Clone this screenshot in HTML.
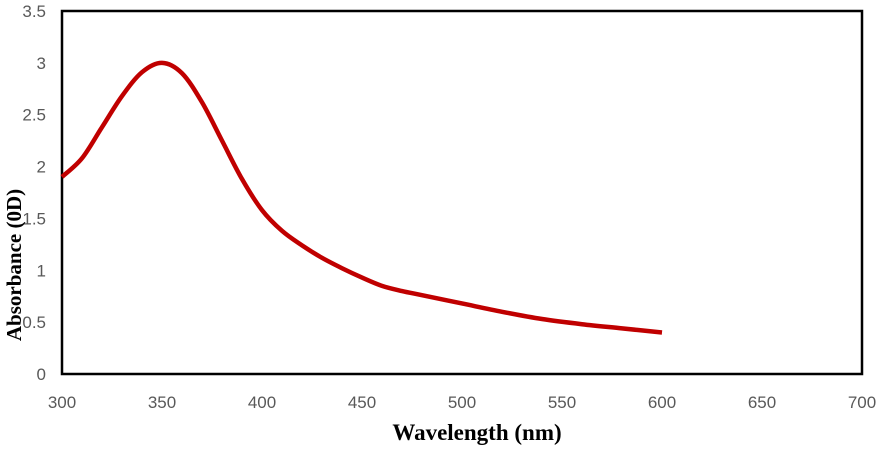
<!DOCTYPE html>
<html><head><meta charset="utf-8"><style>
html,body{margin:0;padding:0;background:#fff;width:886px;height:450px;overflow:hidden}
text{font-family:"Liberation Sans",sans-serif}
</style></head><body>
<svg id="chart" width="886" height="450">
<g id="ticks"></g>
<rect x="62" y="11" width="800" height="363" fill="none" stroke="#000" stroke-width="2.5"/>
<path id="line" fill="none" stroke="#c00000" stroke-width="4.5" stroke-linejoin="round" stroke-linecap="butt"/>
<text x="477" y="440" text-anchor="middle" font-weight="bold" font-size="23" style="font-family:'Liberation Serif',serif">Wavelength (nm)</text>
<text transform="translate(21,265) rotate(-90)" text-anchor="middle" font-weight="bold" font-size="21" style="font-family:'Liberation Serif',serif">Absorbance (0D)</text>
</svg>
<script>
const wavelengths=[300,310,320,330,340,350,360,370,380,390,400,410,420,430,440,450,460,470,480,500,520,540,560,580,600];
const absorbance=[1.9,2.08,2.38,2.68,2.91,3.0,2.9,2.62,2.25,1.88,1.58,1.38,1.24,1.12,1.02,0.93,0.85,0.8,0.76,0.68,0.6,0.53,0.48,0.44,0.4];
const xTicks=[300,350,400,450,500,550,600,650,700];
const yTicks=[0,0.5,1,1.5,2,2.5,3,3.5];
const X=v=>62+(v-300)*2;
const Y=v=>374-v*(363/3.5);
const g=document.getElementById('ticks');
const ns='http://www.w3.org/2000/svg';
xTicks.forEach(t=>{const e=document.createElementNS(ns,'text');


e.setAttribute('x',X(t));e.setAttribute('y',408);e.setAttribute('text-anchor','middle');e.setAttribute('font-size','17');e.setAttribute('fill','#595959');e.textContent=t;g.appendChild(e);});
yTicks.forEach(t=>{const e=document.createElementNS(ns,'text');


e.setAttribute('x',46);e.setAttribute('y',Y(t)+6);e.setAttribute('text-anchor','end');e.setAttribute('font-size','17');e.setAttribute('fill','#595959');e.textContent=t;g.appendChild(e);});
const p=wavelengths.map((w,i)=>[X(w),Y(absorbance[i])]);
let d='M'+p[0][0]+','+p[0][1];
for(let i=0;i<p.length-1;i++){const p0=p[Math.max(0,i-1)],p1=p[i],p2=p[i+1],p3=p[Math.min(p.length-1,i+2)];
d+=` C${p1[0]+(p2[0]-p0[0])/6},${p1[1]+(p2[1]-p0[1])/6} ${p2[0]-(p3[0]-p1[0])/6},${p2[1]-(p3[1]-p1[1])/6} ${p2[0]},${p2[1]}`;}
document.getElementById('line').setAttribute('d',d);
</script>
</body></html>
